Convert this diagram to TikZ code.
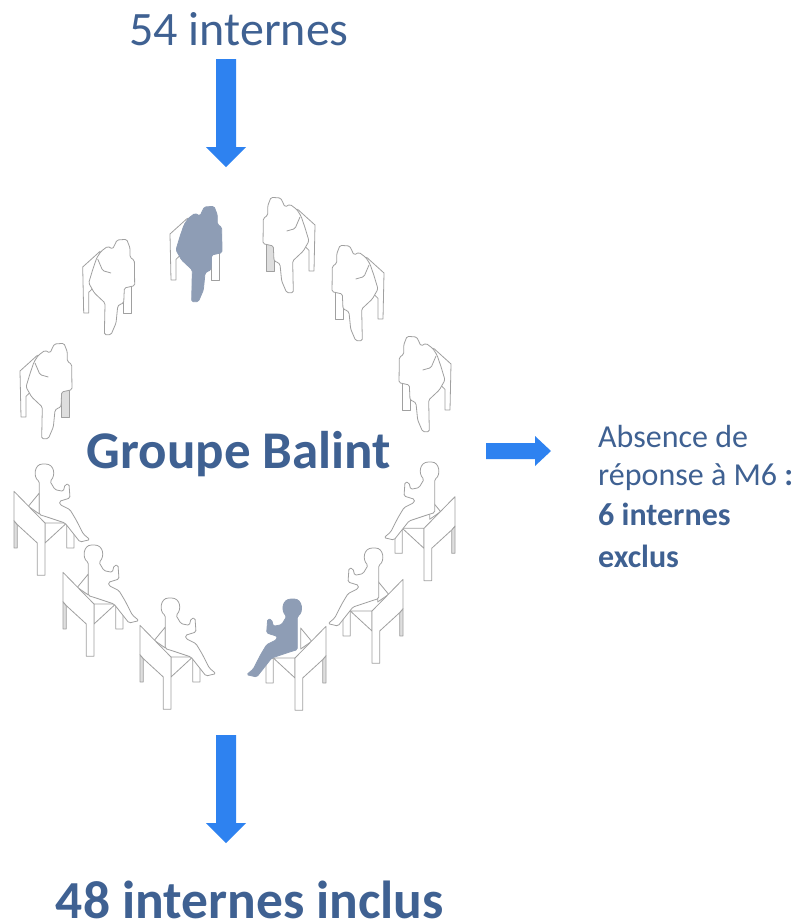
\documentclass[tikz,border=0pt]{standalone}
\usepackage{fontspec}
\setmainfont{Carlito}
\definecolor{txtblue}{HTML}{3F6192}
\definecolor{arrowblue}{HTML}{2E82F0}
\definecolor{figline}{HTML}{A0A0A0}
\definecolor{figdark}{HTML}{8E9DB5}
\definecolor{legshade}{HTML}{DEDEDE}
\tikzset{
  lbl/.style={text=txtblue,inner sep=0pt,align=left},
  blockarrow/.style={fill=arrowblue,draw=none},
  chairline/.style={draw=figline,line width=0.8pt,fill=white,line join=round},
  chairshade/.style={draw=figline,line width=0.8pt,fill=legshade,line join=round},
  bodyline/.style={draw=figline,line width=0.8pt,fill=white,line join=round,rounded corners=1.5pt},
  bodydark/.style={draw=figdark,line width=0.8pt,fill=figdark,line join=round,rounded corners=1.5pt}
}
% #1 x, #2 y, #3 mirror sign, #4 body style, #5 rear-leg style
\newcommand{\backfig}[5]{%
\begin{scope}[shift={(#1,#2)},xscale=#3*0.3333,yscale=0.3333]
 \path[chairline] (0,84) -- (52,37) -- (60,120) -- (18,160) -- (18,222) -- (3,222) -- cycle;
 \path[#5] (123,140) -- (147,140) -- (147,222) -- (123,222) -- cycle;
 \path[#4] (55,37) -- (75,22) -- (90,30) -- (103,3) -- (132,1) -- (142,27) -- (142,55) -- (155,64) -- (156,140)
   -- (125,147) -- (123,192) -- (110,197) -- (105,202) -- (100,252) -- (85,287) -- (65,287) -- (67,192)
   -- (35,162) -- (18,132) -- (30,92) -- (42,57) -- cycle;
 \path[#4,fill=none] (45,60) -- (60,95) -- (85,102);
\end{scope}}
% #1 x, #2 y, #3 mirror sign, #4 body style, #5 chair vertical shift, #6 body horizontal shift
\newcommand{\seatfig}[6]{%
\begin{scope}[shift={(#1,#2)},xscale=#3*0.3333,yscale=0.3333]
 \begin{scope}[yshift=#5pt]
 \path[chairline] (158,177) -- (158,252) -- (180,252) -- (180,183) -- cycle;
 \path[chairline] (93,177) -- (158,177) -- (93,237) -- cycle;
 \path[chairline] (43,127) -- (76,87) -- (76,150) -- cycle;
 \path[chairshade] (0,170) -- (10,182) -- (10,252) -- (0,252) -- cycle;
 \path[chairline] (0,82) -- (93,177) -- (93,334) -- (70,334) -- (70,237) -- (10,182) -- (0,170) -- cycle;
 \end{scope}
 \begin{scope}[xshift=#6pt]
 \path[#4] (76,52) .. controls (58,40) and (60,0) .. (90,0) .. controls (122,0) and (125,35) .. (108,52)
   -- (123,77) -- (148,82) -- (153,62) -- (165,60) -- (168,102) -- (136,112) -- (138,122) -- (168,137) -- (186,167)
   -- (208,210) -- (228,227) -- (198,234) -- (153,177) -- (93,157) -- (76,152) -- cycle;
 \end{scope}
\end{scope}}
\begin{document}
\begin{tikzpicture}[x=1pt,y=-1pt]
\useasboundingbox (0,0) rectangle (800,924);
\fill[white] (0,0) rectangle (800,924);
% figures
\backfig{20}{343}{1}{bodyline}{chairshade}
\backfig{82.7}{239}{1}{bodyline}{chairline}
\backfig{170}{206}{1}{bodydark}{chairline}
\backfig{315}{197}{-1}{bodyline}{chairshade}
\backfig{384}{245}{-1}{bodyline}{chairline}
\backfig{451}{336}{-1}{bodyline}{chairline}
\seatfig{140}{598}{1}{bodyline}{0}{0}
\seatfig{63}{545}{1}{bodyline}{0}{0}
\seatfig{14}{464}{1}{bodyline}{0}{0}
\seatfig{326}{599}{-1}{bodydark}{0}{10}
\seatfig{403}{548}{-1}{bodyline}{-12}{-3}
\seatfig{455}{462}{-1}{bodyline}{-22}{-15}
% arrows
\path[blockarrow] (216,59) -- (236,59) -- (236,147) -- (246,147) -- (226,167) -- (206,147) -- (216,147) -- cycle;
\path[blockarrow] (216,735) -- (236,735) -- (236,823) -- (246,823) -- (226,843) -- (206,823) -- (216,823) -- cycle;
\path[blockarrow] (486,443) -- (535,443) -- (535,436) -- (551,451) -- (535,466) -- (535,459) -- (486,459) -- cycle;
% text
\node[lbl,anchor=base,font=\fontsize{48pt}{48pt}\selectfont] (top) at (239,45) {54 internes};
\node[lbl,anchor=base,font=\fontsize{53pt}{53pt}\selectfont\bfseries] (grp) at (239,468) {Groupe Balint};
\node[lbl,anchor=base,font=\fontsize{53.5pt}{53.5pt}\selectfont\bfseries] (bot) at (250,918) {48 internes inclus};
\node[lbl,anchor=base west,font=\fontsize{32pt}{32pt}\selectfont] (a1) at (598,447) {Absence de};
\node[lbl,anchor=base west,font=\fontsize{32pt}{32pt}\selectfont] (a2) at (598,485) {réponse à M6 \textbf{:}};
\node[lbl,anchor=base west,font=\fontsize{32pt}{32pt}\selectfont\bfseries] (a3) at (598,525) {6 internes};
\node[lbl,anchor=base west,font=\fontsize{32pt}{32pt}\selectfont\bfseries] (a4) at (598,567) {exclus};
\end{tikzpicture}
\end{document}
